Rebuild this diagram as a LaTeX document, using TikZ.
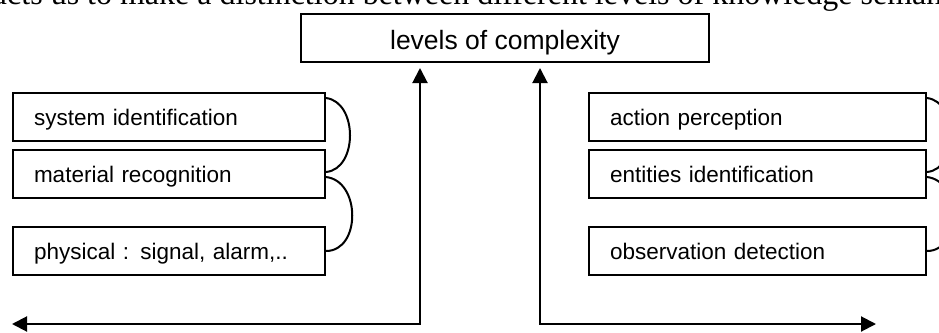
\documentclass[tikz,border=0pt]{standalone}
\usepackage{fontspec}
\setmainfont{Liberation Sans}
\newfontfamily\bodyserif{Liberation Serif}
\usetikzlibrary{arrows.meta,calc}

\tikzset{
  lbox/.style={draw, line width=2pt, rectangle, anchor=north west,
    minimum height=48pt, inner xsep=21pt, inner ysep=0pt, align=left,
    text height=18pt, text depth=2pt,
    font=\fontsize{22.5}{27}\selectfont},
  titlebox/.style={draw, line width=2pt, rectangle, anchor=north west,
    minimum width=408pt, minimum height=48pt, inner sep=0pt,
    text height=22pt, text depth=0pt,
    font=\fontsize{26.5}{31}\selectfont},
  flow/.style={line width=2pt, {Triangle[length=15pt,width=15pt]}-{Triangle[length=15pt,width=15pt]}},
  brace/.style={line width=2pt},
}

\begin{document}
\begin{tikzpicture}[x=1pt, y=-1pt]
  \useasboundingbox (0,0) rectangle (939,332);
  \clip (0,0) rectangle (939,332);

  % running text of the page above the figure
  \node[anchor=base west, inner sep=0pt, font=\bodyserif\fontsize{32}{38}\selectfont]
    (bodyline) at (-25,4.5) {ducts us to make a distinction between different levels of knowledge semantic};

  % title box
  \node[titlebox] (title) at (300,13) {levels of complexity};

  % left column
  \node[lbox, text width=270pt] (sys) at (12,92) {system identification};
  \node[lbox, text width=270pt] (mat) at (12,149) {material recognition};
  \node[lbox, text width=270pt] (phy) at (12,226) {physical : signal, alarm,..};

  % right column
  \node[lbox, text width=295pt] (act) at (588,92) {action perception};
  \node[lbox, text width=295pt] (ent) at (588,149) {entities identification};
  \node[lbox, text width=295pt] (obs) at (588,226) {observation detection};

  % axis corners and free ends
  \coordinate (ltop) at (420,68);
  \coordinate (lcorner) at (420,324);
  \coordinate (lend) at (12,324);
  \coordinate (rtop) at (540,68);
  \coordinate (rcorner) at (540,324);
  \coordinate (rend) at (876,324);

  \draw[flow] (ltop) -- (lcorner) -- (lend);
  \draw[flow] (rtop) -- (rcorner) -- (rend);

  % brackets joining the left boxes
  \draw[brace] ($(sys.north east)+(0,6)$)
    .. controls ($(sys.north east)+(32,10)$) and ($(mat.east)+(32,-5)$) .. ($(mat.east)+(0,-2)$);
  \draw[brace] ($(mat.east)+(0,3)$)
    .. controls ($(mat.east)+(35,7)$) and ($(phy.east)+(35,0)$) .. ($(phy.east)$);

  % brackets joining the right boxes
  \draw[brace] ($(act.north east)+(0,6)$)
    .. controls ($(act.north east)+(32,10)$) and ($(ent.east)+(32,-5)$) .. ($(ent.east)+(0,-2)$);
  \draw[brace] ($(ent.east)+(0,3)$)
    .. controls ($(ent.east)+(35,7)$) and ($(obs.east)+(35,0)$) .. ($(obs.east)$);
\end{tikzpicture}
\end{document}
